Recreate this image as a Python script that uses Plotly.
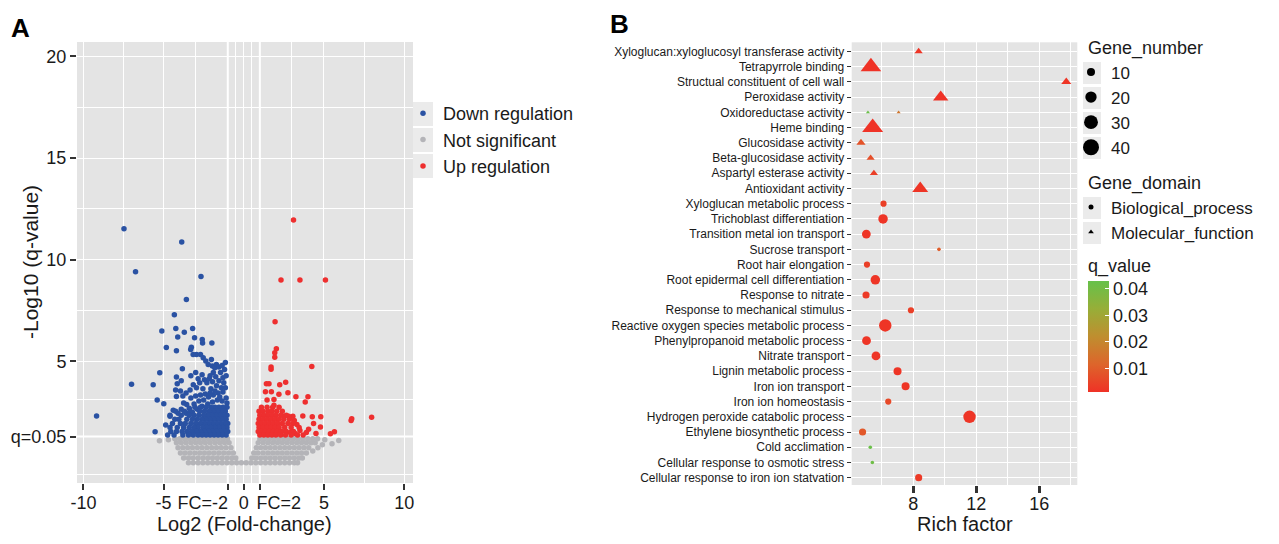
import plotly.graph_objects as go

# The page body has an 8px margin; the figure is sized and positioned to compensate.
OFF = 8
W, H = 1279 - 2 * OFF, 544 - 2 * OFF
FONT = "Liberation Sans, Arial, Helvetica, sans-serif"
TXT = "#1a1a1a"


def fx(p):
    return (p - OFF) / W


def fy(p):
    return 1 - (p - OFF) / H


# ---------------- Panel A : volcano plot data ----------------
down_outliers = [
    (-9.18, 2.31), (-7.47, 11.53), (-3.87, 10.87), (-6.75, 9.41), (-2.67, 9.18),
    (-3.58, 8.05), (-4.33, 7.29), (-5.11, 6.49), (-4.24, 6.62), (-3.71, 6.44),
    (-3.19, 6.62), (-4.12, 6.2), (-3.07, 6.16), (-2.59, 6.08), (-2.57, 5.9),
    (-1.99, 5.9), (-4.83, 5.69), (-4.2, 5.52), (-3.27, 5.7), (-3.31, 5.58),
    (-3.16, 5.34), (-2.95, 5.34), (-2.7, 5.34), (-5.24, 4.44), (-3.83, 4.64),
    (-7.0, 3.88), (-5.65, 3.85), (-5.4, 3.1), (-4.99, 2.92), (-5.53, 1.54),
    (-4.87, 1.87),
]
down_upper = [
    (-2.53, 5.18), (-2.37, 5.02), (-2.22, 4.85), (-2.02, 5.1), (-1.96, 4.77),
    (-1.81, 4.69), (-1.71, 4.85), (-1.55, 4.72), (-1.35, 4.8), (-1.2, 4.6),
    (-1.45, 4.45), (-1.9, 4.45), (-2.1, 4.3), (-1.3, 4.2), (-1.15, 4.95),
]
down_mid = [
    (-4.2, 4.23), (-4.15, 3.9), (-3.9, 4.05), (-4.25, 3.6), (-3.95, 3.55),
    (-3.3, 4.3), (-3.0, 4.45), (-2.85, 4.15), (-3.15, 3.85), (-2.6, 4.35),
    (-2.75, 3.95), (-2.45, 4.1), (-3.6, 3.45), (-3.35, 3.6), (-2.95, 3.7),
    (-2.55, 3.65), (-2.3, 3.95), (-2.15, 4.15), (-1.95, 4.0), (-1.75, 4.25),
    (-1.55, 4.05), (-1.25, 3.95), (-1.1, 4.3), (-1.4, 3.7), (-1.7, 3.8),
    (-2.05, 3.65), (-2.4, 3.4), (-2.7, 3.35), (-3.0, 3.3), (-3.3, 3.2),
    (-3.8, 3.3), (-4.2, 3.27), (-3.56, 2.88), (-3.75, 2.95), (-4.4, 2.6),
    (-4.6, 2.3), (-4.1, 2.45), (-3.9, 2.65), (-3.4, 2.7), (-3.1, 2.9),
    (-2.8, 3.05), (-2.5, 3.1), (-2.2, 3.25), (-1.9, 3.35), (-1.6, 3.45),
    (-1.3, 3.5), (-1.1, 3.2), (-1.35, 3.05), (-1.65, 3.1), (-1.95, 3.0),
    (-2.25, 2.9), (-2.6, 2.8), (-2.9, 2.65), (-3.2, 2.5), (-3.6, 2.45),
    (-1.15, 3.7), (-1.5, 3.25), (-1.8, 3.55), (-2.1, 3.45), (-1.05, 2.95),
]
# dense lower part of the down-regulated cloud, read row by row (y: list of x)
down_rows = {
    2.75: [-1.05, -1.3, -1.55, -1.8, -2.05, -2.35, -2.7, -3.05],
    2.55: [-1.15, -1.4, -1.65, -1.9, -2.15, -2.45, -2.75, -3.35, -3.7, -4.25],
    2.35: [-1.05, -1.25, -1.5, -1.75, -2.0, -2.25, -2.5, -2.8, -3.1, -3.4, -3.9, -4.6],
    2.15: [-1.1, -1.35, -1.6, -1.85, -2.1, -2.35, -2.6, -2.9, -3.2, -3.55, -4.05, -4.3],
    1.95: [-1.0, -1.2, -1.45, -1.7, -1.95, -2.2, -2.45, -2.7, -3.0, -3.3, -3.65, -3.95, -4.45],
    1.75: [-1.05, -1.3, -1.55, -1.8, -2.05, -2.3, -2.55, -2.85, -3.1, -3.4, -3.75, -4.15, -4.6],
    1.55: [-1.0, -1.2, -1.45, -1.7, -1.95, -2.2, -2.45, -2.7, -2.95, -3.25, -3.55, -3.85, -4.2, -4.55],
    1.38: [-1.1, -1.35, -1.6, -1.85, -2.1, -2.35, -2.6, -2.85, -3.15, -3.45, -3.8, -4.35, -4.75],
}

up_outliers = [
    (3.1, 11.95), (2.32, 9.0), (3.5, 9.0), (5.09, 9.0), (1.95, 6.95),
    (2.03, 5.62), (1.93, 5.43), (1.93, 5.2), (1.7, 4.72), (1.7, 4.61),
    (4.24, 4.75), (2.61, 3.98), (1.41, 3.9), (1.57, 3.9), (2.24, 3.85),
    (2.75, 3.46), (1.35, 3.51), (1.72, 3.51), (2.19, 3.38), (3.25, 3.26),
    (4.0, 3.26), (3.83, 3.0), (1.88, 3.13), (1.88, 2.84), (1.45, 3.1),
    (3.68, 2.31), (4.27, 2.28), (4.8, 2.28), (4.35, 1.95), (4.78, 1.78),
    (4.04, 1.66), (6.69, 2.1), (6.73, 2.18), (7.97, 2.25), (5.65, 1.54),
    (5.4, 1.44), (3.06, 2.3), (3.15, 2.1), (3.31, 1.9), (2.5, 2.3),
    (2.8, 2.3), (3.5, 1.6), (3.9, 1.5), (4.5, 1.45), (2.9, 1.5), (3.2, 1.45),
]
up_rows = {
    2.75: [1.1, 1.45, 1.8, 2.2],
    2.55: [0.95, 1.2, 1.5, 1.75, 2.05, 2.4],
    2.35: [1.0, 1.25, 1.5, 1.75, 2.0, 2.3, 2.65],
    2.15: [0.95, 1.2, 1.45, 1.7, 1.95, 2.2, 2.5, 2.85],
    1.95: [0.9, 1.1, 1.35, 1.6, 1.85, 2.1, 2.4, 2.75, 3.05],
    1.75: [0.95, 1.2, 1.45, 1.7, 1.95, 2.2, 2.55, 2.95, 3.45],
    1.55: [0.9, 1.1, 1.35, 1.6, 1.85, 2.1, 2.35, 2.65, 3.1],
    1.38: [1.0, 1.25, 1.5, 1.75, 2.0, 2.3, 2.6, 2.95, 3.35, 3.7],
}

ns_rows = {
    0.02: [-3.45, -3.15, -2.85, -2.55, -2.25, -1.95, -1.65, -1.35, -1.05, -0.75, -0.45, -0.15,
           0.15, 0.45, 0.75, 1.05, 1.35, 1.65, 1.95, 2.25, 2.55, 2.85, 3.15, 3.35],
    0.25: [-3.75, -3.45, -3.15, -2.85, -2.55, -2.25, -1.95, -1.65, -1.35, -1.05, -0.75, -0.5,
           0.5, 0.75, 1.05, 1.35, 1.65, 1.95, 2.25, 2.55, 2.85, 3.15, 3.45, 3.65],
    0.5: [-3.95, -3.65, -3.35, -3.05, -2.75, -2.45, -2.15, -1.85, -1.55, -1.25, -0.95, -0.65,
          0.62, 0.9, 1.2, 1.5, 1.8, 2.1, 2.4, 2.7, 3.0, 3.3, 3.6, 3.9],
    0.75: [-4.1, -3.8, -3.5, -3.2, -2.9, -2.6, -2.3, -2.0, -1.7, -1.4, -1.1, -0.8,
           0.78, 1.05, 1.35, 1.65, 1.95, 2.25, 2.55, 2.85, 3.15, 3.45, 3.75, 4.05, 4.62],
    1.0: [-4.2, -3.9, -3.6, -3.3, -3.0, -2.7, -2.4, -2.1, -1.8, -1.5, -1.2, -0.92,
          0.9, 1.2, 1.5, 1.8, 2.1, 2.4, 2.7, 3.0, 3.3, 3.6, 3.9, 4.2, 4.45],
    1.2: [-4.3, -4.0, -3.7, -3.4, -3.1, -2.8, -2.5, -2.2, -1.9, -1.6, -1.3, -1.02,
          1.0, 1.3, 1.6, 1.9, 2.2, 2.5, 2.8, 3.1, 3.4, 3.7, 4.0, 4.3, 4.6],
}
ns_outliers = [(-5.26, 1.1), (-4.7, 1.15), (5.92, 1.11), (5.05, 1.15), (5.5, 0.95),
               (4.9, 0.9), (4.3, 0.6)]

volcano_xticks = [-10, -5, 0, 5, 10]
volcano_xlabels = ["-10", "-5", "0", "5", "10"]
fc_neg_tick, fc_neg_label = -1, "FC=-2"
fc_pos_tick, fc_pos_label = 1, "FC=2"
volcano_yticks = [1.301, 5, 10, 15, 20]
volcano_ylabels = ["q=0.05", "5", "10", "15", "20"]


def flatten(pairs, rows):
    xs = [p[0] for p in pairs]
    ys = [p[1] for p in pairs]
    for yv, row in rows.items():
        xs += row
        ys += [yv] * len(row)
    return xs, ys


down_x, down_y = flatten(down_outliers + down_upper + down_mid, down_rows)
up_x, up_y = flatten(up_outliers, up_rows)
ns_x, ns_y = flatten(ns_outliers, ns_rows)

# ---------------- Panel B : GO enrichment data ----------------
go_terms_top_to_bottom = [
    "Xyloglucan:xyloglucosyl transferase activity", "Tetrapyrrole binding",
    "Structual constituent of cell wall", "Peroxidase activity", "Oxidoreductase activity",
    "Heme binding", "Glucosidase activity", "Beta-glucosidase activity",
    "Aspartyl esterase activity", "Antioxidant activity", "Xyloglucan metabolic process",
    "Trichoblast differentiation", "Transition metal ion transport", "Sucrose transport",
    "Root hair elongation", "Root epidermal cell differentiation", "Response to nitrate",
    "Response to mechanical stimulus", "Reactive oxygen species metabolic process",
    "Phenylpropanoid metabolic process", "Nitrate transport", "Lignin metabolic process",
    "Iron ion transport", "Iron ion homeostasis", "Hydrogen peroxide catabolic process",
    "Ethylene biosynthetic process", "Cold acclimation", "Cellular response to osmotic stress",
    "Cellular response to iron ion statvation",
]
mf_terms = ["Xyloglucan:xyloglucosyl transferase activity", "Tetrapyrrole binding",
            "Structual constituent of cell wall", "Peroxidase activity", "Oxidoreductase activity",
            "Oxidoreductase activity", "Heme binding", "Glucosidase activity",
            "Beta-glucosidase activity", "Aspartyl esterase activity", "Antioxidant activity"]
mf_rich = [8.34, 5.31, 17.71, 9.74, 5.12, 7.07, 5.42, 4.68, 5.29, 5.5, 8.44]
mf_genes = [4, 25, 6, 14, 1, 1, 26, 5, 4, 4, 15]
mf_q = [0.002, 0.001, 0.002, 0.001, 0.042, 0.016, 0.001, 0.008, 0.007, 0.004, 0.002]

bp_terms = ["Xyloglucan metabolic process", "Trichoblast differentiation",
            "Transition metal ion transport", "Sucrose transport", "Root hair elongation",
            "Root epidermal cell differentiation", "Response to nitrate",
            "Response to mechanical stimulus", "Reactive oxygen species metabolic process",
            "Phenylpropanoid metabolic process", "Nitrate transport", "Lignin metabolic process",
            "Iron ion transport", "Iron ion homeostasis", "Hydrogen peroxide catabolic process",
            "Ethylene biosynthetic process", "Cold acclimation",
            "Cellular response to osmotic stress", "Cellular response to iron ion statvation"]
bp_rich = [6.11, 6.08, 5.02, 9.63, 5.06, 5.59, 5.0, 7.85, 6.22, 5.03, 5.63, 7.0, 7.51, 6.41,
           11.57, 4.78, 5.27, 5.4, 8.34]
bp_genes = [3, 7, 6, 1, 3, 7, 4, 3, 12, 6, 6, 5, 5, 3, 12, 4, 1, 1, 4]
bp_q = [0.004, 0.002, 0.002, 0.01, 0.004, 0.002, 0.003, 0.004, 0.002, 0.002, 0.002, 0.002,
        0.002, 0.006, 0.002, 0.009, 0.042, 0.041, 0.003]

gene_number_legend = [10, 20, 30, 40]
rich_ticks = [8, 12, 16]
q_ticks = [0.01, 0.02, 0.03, 0.04]

SIZEREF = 0.156  # area mode: diameter = sqrt(n / SIZEREF)

fig = go.Figure()

# Panel A traces
fig.add_trace(go.Scatter(x=ns_x, y=ns_y, mode="markers", name="Not significant",
                         marker=dict(color="#b4b4b8", size=5.5, line=dict(width=0)),
                         legend="legend", legendrank=2, legendgroup="b", xaxis="x", yaxis="y"))
fig.add_trace(go.Scatter(x=down_x, y=down_y, mode="markers", name="Down regulation",
                         marker=dict(color="#2a52a3", size=5.5, line=dict(width=0)),
                         legend="legend", legendrank=1, legendgroup="a", xaxis="x", yaxis="y"))
fig.add_trace(go.Scatter(x=up_x, y=up_y, mode="markers", name="Up regulation",
                         marker=dict(color="#ee2f2f", size=5.5, line=dict(width=0)),
                         legend="legend", legendrank=3, legendgroup="c", xaxis="x", yaxis="y"))
# empty carriers for the two overlay axes holding the FC tick labels
for ax in ("x3", "x4"):
    fig.add_trace(go.Scatter(x=[None], y=[None], mode="markers", showlegend=False,
                             xaxis=ax, yaxis="y", hoverinfo="skip"))

# Panel B traces
for terms, rich, genes, qv, sym in [(bp_terms, bp_rich, bp_genes, bp_q, "circle"),
                                    (mf_terms, mf_rich, mf_genes, mf_q, "triangle-up")]:
    fig.add_trace(go.Scatter(
        x=rich, y=terms, mode="markers", showlegend=False, xaxis="x2", yaxis="y2",
        marker=dict(symbol=sym, size=genes, sizemode="area", sizeref=SIZEREF, sizemin=1.5,
                    color=qv, coloraxis="coloraxis", opacity=1, line=dict(width=0))))

# Legend keys for Gene_number and Gene_domain
for n in gene_number_legend:
    fig.add_trace(go.Scatter(x=[None], y=[None], mode="markers", name=str(n),
                             marker=dict(color="black", size=(n / SIZEREF) ** 0.5),
                             legend="legend2", xaxis="x2", yaxis="y2"))
for name, sym in [("Biological_process", "circle"), ("Molecular_function", "triangle-up")]:
    fig.add_trace(go.Scatter(x=[None], y=[None], mode="markers", name=name,
                             marker=dict(color="black", size=5, symbol=sym),
                             legend="legend3", xaxis="x2", yaxis="y2"))

grid = "white"
NB = "\u00a0"
KEYBG = "#ebebeb"
XR = [-10.4, 10.55]


def ann(text, x, y, size, angle=0, bold=False):
    return dict(text=f"<b>{text}</b>" if bold else text, x=fx(x), y=fy(y),
                xref="paper", yref="paper", xanchor="center", yanchor="middle",
                showarrow=False, textangle=angle,
                font=dict(size=size, color="black" if bold else TXT))


def keybox(cx, cy, hw, hh):
    return dict(type="rect", xref="paper", yref="paper", x0=fx(cx - hw), x1=fx(cx + hw),
                y0=fy(cy + hh), y1=fy(cy - hh), fillcolor=KEYBG, line=dict(width=0),
                layer="below")


def fc_axis(tick, label, shift):
    return dict(overlaying="x", anchor="y", side="bottom", range=XR, tickmode="array",
                tickvals=[tick], ticktext=[label], tickangle=0, ticklabelshift=shift,
                ticklabelstandoff=-3,
                ticks="outside", ticklen=6, tickwidth=2, tickcolor="#333",
                tickfont=dict(size=18, color=TXT), showgrid=False, zeroline=False,
                showline=False, automargin=False)


key_shapes = [keybox(423, c, 10, 12) for c in (114, 140, 166)]
key_shapes += [keybox(1092, c, 9, 11) for c in (73, 98, 123, 148)]
key_shapes += [keybox(1092, c, 9, 11) for c in (208, 233)]

fig.update_layout(
    width=W, height=H, autosize=False,
    margin=dict(l=0, r=0, t=0, b=0),
    paper_bgcolor="white", plot_bgcolor="#e4e4e4",
    font=dict(family=FONT, color=TXT, size=18),
    xaxis=dict(domain=[fx(77), fx(413)], range=XR, tickmode="array",
               tickvals=volcano_xticks, ticktext=volcano_xlabels, tickangle=0,
               ticks="outside", ticklen=6, ticklabelstandoff=-3,
               tickwidth=2, tickcolor="#333", tickfont=dict(size=18, color=TXT),
               showgrid=True, gridcolor=grid, gridwidth=1.3, zeroline=False, showline=False,
               automargin=False, anchor="y",
               minor=dict(tickvals=[-7.5, -3, -0.5, 0.5, 3, 7.5], showgrid=True,
                          gridcolor=grid, gridwidth=0.7)),
    xaxis3=fc_axis(fc_neg_tick, fc_neg_label, -25),
    xaxis4=fc_axis(fc_pos_tick, fc_pos_label, 19),
    yaxis=dict(domain=[fy(483), fy(42)], range=[-0.98, 20.71], tickmode="array",
               tickvals=volcano_yticks, ticktext=volcano_ylabels, ticks="outside", ticklen=6,
               tickwidth=2, tickcolor="#333", tickfont=dict(size=18, color=TXT),
               showgrid=True, gridcolor=grid, gridwidth=1.3, zeroline=False, showline=False,
               automargin=False, anchor="x",
               minor=dict(tickvals=[-0.55, 3.15, 7.5, 12.5, 17.5], showgrid=True,
                          gridcolor=grid, gridwidth=0.7)),
    xaxis2=dict(domain=[fx(851.7), fx(1077.3)], range=[4.09, 18.41], tickmode="array",
                tickvals=rich_ticks, tickangle=0, ticks="outside", ticklen=7, tickwidth=2.5,
                ticklabelstandoff=-5,
                tickcolor="#333", tickfont=dict(size=18, color=TXT), showgrid=True,
                gridcolor=grid, gridwidth=1.3, zeroline=False, showline=False,
                automargin=False, anchor="y2",
                minor=dict(tickvals=[6, 10, 14, 18], showgrid=True, gridcolor=grid,
                           gridwidth=0.7)),
    yaxis2=dict(domain=[fy(485), fy(42.3)], type="category", categoryorder="array",
                categoryarray=list(reversed(go_terms_top_to_bottom)), range=[-0.48, 28.6],
                ticks="outside", ticklen=4, tickwidth=1.2, tickcolor="#333",
                tickfont=dict(size=12, color=TXT), showgrid=True, gridcolor=grid,
                gridwidth=1.3, zeroline=False, showline=False, automargin=False,
                anchor="x2"),
    coloraxis=dict(
        cmin=0.0013, cmax=0.0428,
        colorscale=[[0.0, "#ef3226"], [0.25, "#dd652b"], [0.5, "#bf8e2f"],
                    [0.75, "#97ae38"], [1.0, "#66c14a"]],
        colorbar=dict(x=fx(1088), xanchor="left", xpad=0, y=fy(255), yanchor="top", ypad=0,
                      len=137, lenmode="pixels", thickness=21, thicknessmode="pixels",
                      tickvals=q_ticks, ticktext=[f"{v:.2f}" for v in q_ticks],
                      ticks="inside", ticklen=4, tickcolor="white", tickwidth=1,
                      tickfont=dict(size=18, color=TXT), outlinewidth=0,
                      title=dict(text="q_value", side="top", font=dict(size=18, color=TXT)))),
    legend=dict(x=fx(403), y=fy(95), xanchor="left", yanchor="top", bgcolor="rgba(0,0,0,0)",
                font=dict(size=18, color=TXT), tracegroupgap=2, itemsizing="trace",
                traceorder="normal"),
    legend2=dict(x=fx(1071), y=fy(31), xanchor="left", yanchor="top",
                 bgcolor="rgba(0,0,0,0)", font=dict(size=17, color=TXT), itemsizing="trace",
                 title=dict(text=NB * 3 + "Gene_number", font=dict(size=18, color=TXT))),
    legend3=dict(x=fx(1071), y=fy(166), xanchor="left", yanchor="top",
                 bgcolor="rgba(0,0,0,0)", font=dict(size=17, color=TXT), itemsizing="trace",
                 title=dict(text=NB * 3 + "Gene_domain", font=dict(size=18, color=TXT))),
    shapes=key_shapes + [
        dict(type="line", xref="x", yref="paper", x0=-1, x1=-1, y0=fy(483), y1=fy(42),
             line=dict(color="white", width=2), layer="between"),
        dict(type="line", xref="x", yref="paper", x0=1, x1=1, y0=fy(483), y1=fy(42),
             line=dict(color="white", width=2), layer="between"),
        dict(type="line", xref="paper", yref="y", x0=fx(77), x1=fx(413), y0=1.301, y1=1.301,
             line=dict(color="white", width=2), layer="between"),
    ],
    annotations=[
        ann("A", 20, 28, 26, bold=True),
        ann("B", 619, 24, 26, bold=True),
        ann("-Log10 (q-value)", 30, 262, 21, angle=-90),
        ann("Log2 (Fold-change)", 244, 524, 20),
        ann("Rich factor", 965, 524, 20),
    ],
)

fig.write_html("out.html")
